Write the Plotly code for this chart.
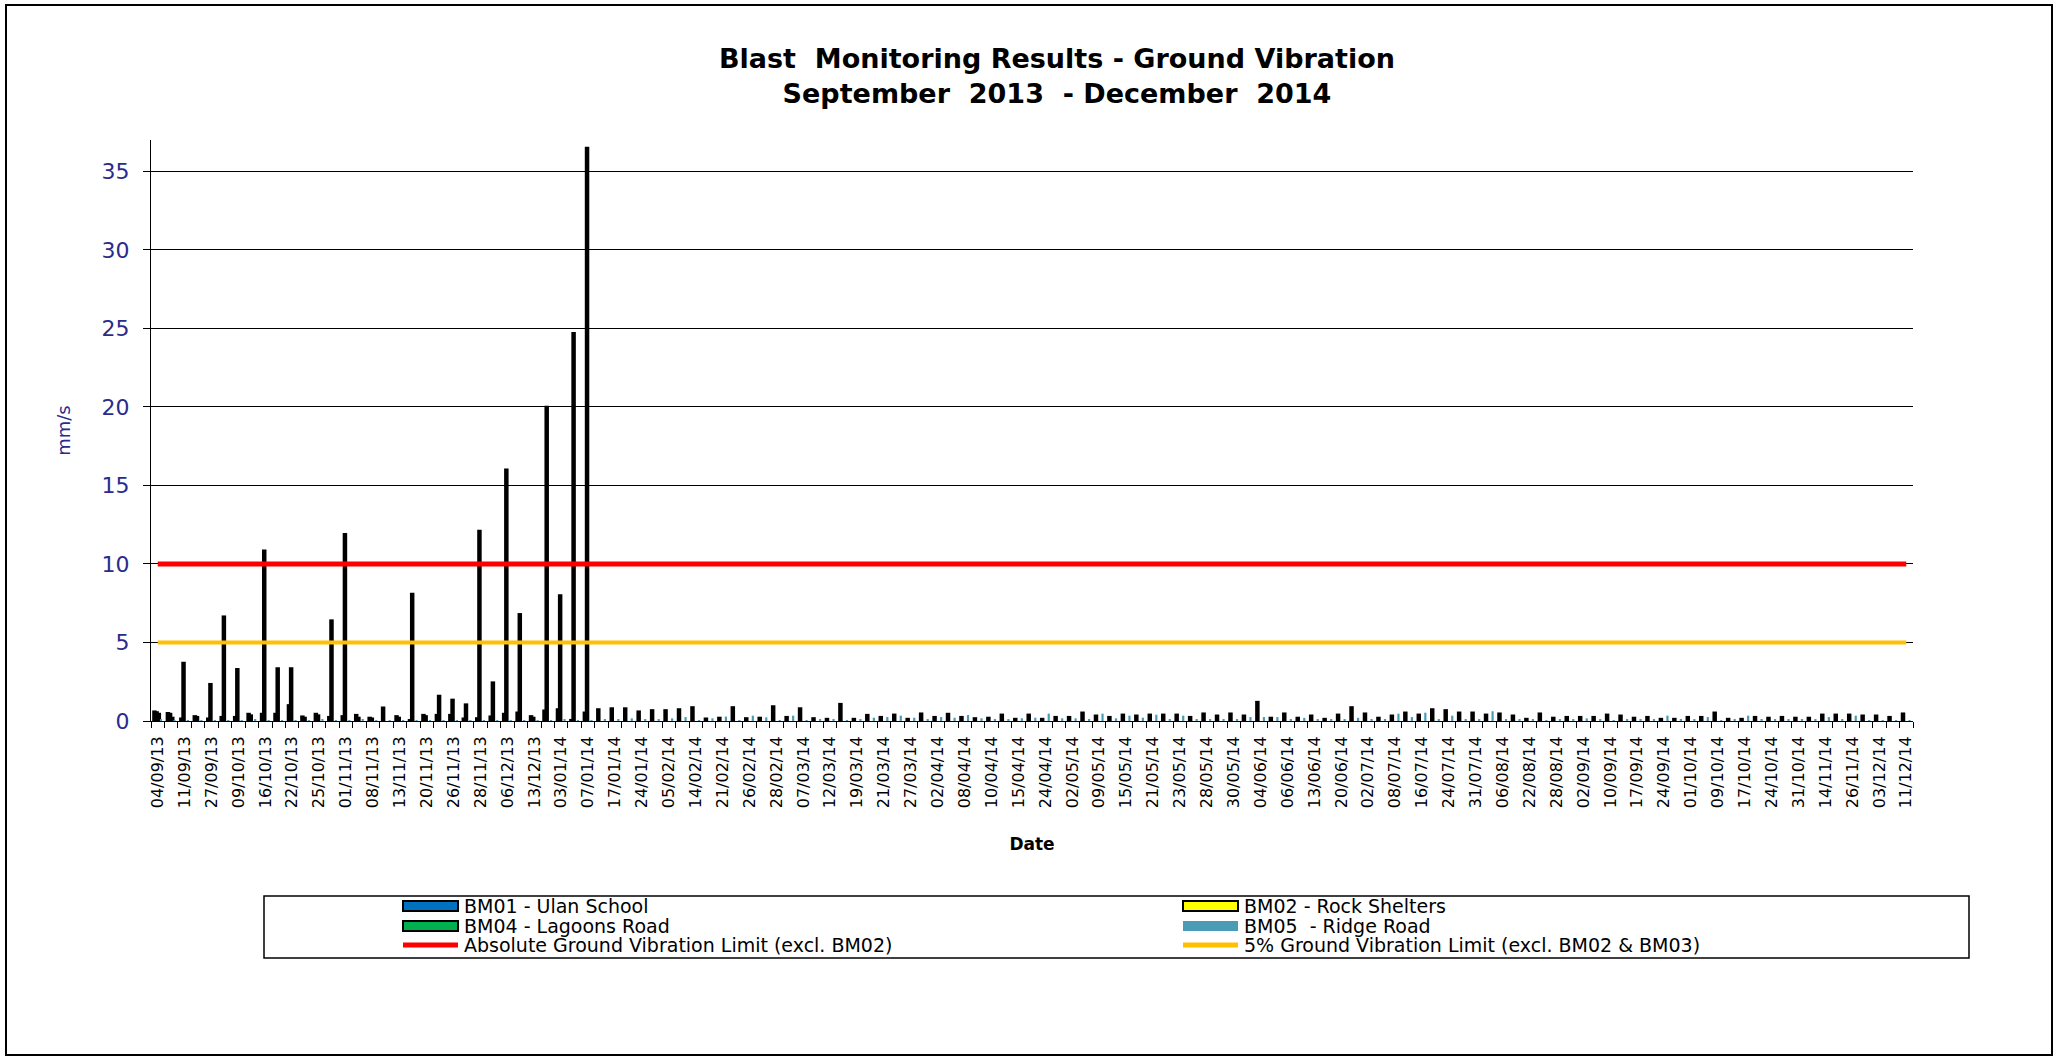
import plotly.graph_objects as go

# ---------------------------------------------------------------------------
# Data: one value per monitoring event (131 events, Sep 2013 - Dec 2014).
# Axis labels are printed on every second event.
# ---------------------------------------------------------------------------
DATE_LABELS = [
    "04/09/13", "11/09/13", "27/09/13", "09/10/13", "16/10/13", "22/10/13",
    "25/10/13", "01/11/13", "08/11/13", "13/11/13", "20/11/13", "26/11/13",
    "28/11/13", "06/12/13", "13/12/13", "03/01/14", "07/01/14", "17/01/14",
    "24/01/14", "05/02/14", "14/02/14", "21/02/14", "26/02/14", "28/02/14",
    "07/03/14", "12/03/14", "19/03/14", "21/03/14", "27/03/14", "02/04/14",
    "08/04/14", "10/04/14", "15/04/14", "24/04/14", "02/05/14", "09/05/14",
    "15/05/14", "21/05/14", "23/05/14", "28/05/14", "30/05/14", "04/06/14",
    "06/06/14", "13/06/14", "20/06/14", "02/07/14", "08/07/14", "16/07/14",
    "24/07/14", "31/07/14", "06/08/14", "22/08/14", "28/08/14", "02/09/14",
    "10/09/14", "17/09/14", "24/09/14", "01/10/14", "09/10/14", "17/10/14",
    "24/10/14", "31/10/14", "14/11/14", "26/11/14", "03/12/14", "11/12/14",
]

# BM01 - Ulan School (mm/s)
BM01 = [
    0.6, 0.5, 0.15, 0.3, 0.15, 0.25, 0.25, 0.45, 0.45, 0.45, 1.0, 0.28,
    0.45, 0.25, 0.3, 0.38, 0.2, 0.85, 0.3, 0.05, 0.38, 0.38, 0.38, 0.15,
    0.17, 0.28, 0.45, 0.53, 0.3, 0.66, 0.74, 0.06, 0.53, 0.74,
    0.8, 0.8, 0.6, 0.68, 0.68, 0.74, 0.87, 0.15, 0.2, 0.87, 0.17, 0.2,
    0.93, 0.25, 0.8, 0.17, 0.13, 1.08, 0.13, 0.38, 0.25, 0.4, 0.13, 0.47,
    0.25, 0.45, 0.25, 0.17, 0.2, 0.4, 0.13, 0.4, 0.13, 0.25, 0.25,
    0.53, 0.34, 0.25, 0.4, 0.34, 0.4, 0.4, 0.4, 0.25, 0.47, 0.34, 0.47,
    0.34, 1.21, 0.2, 0.47, 0.2, 0.34, 0.13, 0.4, 0.87, 0.47, 0.2, 0.34,
    0.53, 0.4, 0.74, 0.68, 0.53, 0.53, 0.4, 0.47, 0.34, 0.13,
    0.47, 0.2, 0.25, 0.25, 0.25, 0.4, 0.34, 0.2, 0.25, 0.13, 0.13, 0.25,
    0.25, 0.53, 0.13, 0.13, 0.25, 0.2, 0.25, 0.2, 0.2, 0.4, 0.4, 0.4,
    0.34, 0.34, 0.25, 0.47,
]

# BM02 - Rock Shelters (mm/s); readings stop after early January 2014
BM02 = [
    0.55, 0.45, 3.7, 0.25, 2.35, 6.65, 3.3, 0.35, 10.85, 3.35, 3.35, 0.2,
    0.35, 6.4, 11.9, 0.2, 0.15, None, 0.2, 8.1, 0.3, 1.6, 1.35, 1.05,
    12.1, 2.45, 16.0, 6.8, 0.2, 20.0, 8.0, 24.7, 36.5,
]

# BM04 - Lagoons Road (mm/s)
BM04 = [0.45, 0.2]

# BM05 - Ridge Road (mm/s)
BM05 = [
    0.1, 0.05, 0.05, 0.05, 0.05, 0.05, 0.05, 0.1, 0.05, 0.05, 0.05, 0.05,
    0.1, 0.05, 0.05, 0.1, 0.05, 0.05, 0.05, 0.05, 0.05, 0.05, 0.05, 0.05,
    0.05, 0.05, 0.05, 0.05, 0.05, 0.05, 0.1, 0.05, 0.05, 0.1,
    0.1, 0.17, 0.1, 0.1, 0.17, 0.25, 0.05, 0.17, 0.28, 0.05, 0.34, 0.23,
    0.05, 0.34, 0.05, 0.1, 0.1, 0.05, 0.1, 0.21, 0.25, 0.34, 0.21, 0.1,
    0.25, 0.21, 0.38, 0.17, 0.1, 0.1, 0.17, 0.21, 0.47, 0.17, 0.17,
    0.1, 0.47, 0.17, 0.34, 0.21, 0.4, 0.1, 0.34, 0.1, 0.1, 0.1, 0.1,
    0.25, 0.25, 0.25, 0.1, 0.2, 0.1, 0.1, 0.1, 0.2, 0.1, 0.1, 0.47,
    0.25, 0.53, 0.1, 0.34, 0.1, 0.1, 0.62, 0.1, 0.1, 0.1,
    0.05, 0.1, 0.1, 0.17, 0.1, 0.05, 0.1, 0.1, 0.1, 0.34, 0.1, 0.1,
    0.25, 0.05, 0.1, 0.34, 0.1, 0.1, 0.1, 0.1, 0.1, 0.25, 0.1, 0.34,
    0.05, 0.05, 0.05, 0.05,
]

ABS_LIMIT = 10   # Absolute ground vibration limit (mm/s)
PCT5_LIMIT = 5   # 5% ground vibration limit (mm/s)

SERIES_NAMES = [
    "BM01 - Ulan School",
    "BM02 - Rock Shelters",
    "BM04 - Lagoons Road",
    "BM05  - Ridge Road",
    "Absolute Ground Vibration Limit (excl. BM02)",
    "5% Ground Vibration Limit (excl. BM02 & BM03)",
]

# ---------------------------------------------------------------------------
# Styling / layout
# ---------------------------------------------------------------------------
W, H = 2060, 1059
PLOT_L, PLOT_R, PLOT_T, PLOT_B = 151, 1913, 140, 721
FONT = "DejaVu Sans"
NAVY = "#2B2B8C"
C_BM01, C_BM02, C_BM04, C_BM05 = "#0070C0", "#FFFF00", "#00B050", "#4A9BB5"
C_ABS, C_PCT5 = "#FF0000", "#FFC000"

n = len(BM01)
x_idx = list(range(n))


def pad(values):
    return values + [None] * (n - len(values))


def px_x(px):
    return (px - PLOT_L) / (PLOT_R - PLOT_L)


def px_y(py):
    return (PLOT_B - py) / (PLOT_B - PLOT_T)


fig = go.Figure()

# Narrow bars with a heavy outline: at this density they read as black spikes
bar_line = dict(color="black", width=2.3)
fig.add_trace(go.Bar(x=x_idx, y=BM01, name=SERIES_NAMES[0],
                     marker=dict(color=C_BM01, line=bar_line)))
fig.add_trace(go.Bar(x=x_idx, y=pad(BM02), name=SERIES_NAMES[1],
                     marker=dict(color=C_BM02, line=bar_line)))
fig.add_trace(go.Bar(x=x_idx, y=pad(BM04), name=SERIES_NAMES[2],
                     marker=dict(color=C_BM04, line=bar_line)))
fig.add_trace(go.Bar(x=x_idx, y=BM05, name=SERIES_NAMES[3],
                     marker=dict(color=C_BM05, line=dict(width=0))))

fig.add_trace(go.Scatter(x=[x_idx[0], x_idx[-1]], y=[ABS_LIMIT, ABS_LIMIT],
                         mode="lines", name=SERIES_NAMES[4],
                         line=dict(color=C_ABS, width=5)))
fig.add_trace(go.Scatter(x=[x_idx[0], x_idx[-1]], y=[PCT5_LIMIT, PCT5_LIMIT],
                         mode="lines", name=SERIES_NAMES[5],
                         line=dict(color=C_PCT5, width=4)))

fig.update_traces(showlegend=False, hoverinfo="skip")

fig.update_layout(
    width=W, height=H, autosize=False,
    margin=dict(l=PLOT_L, r=W - PLOT_R, t=PLOT_T, b=H - PLOT_B, pad=0),
    paper_bgcolor="white", plot_bgcolor="white",
    font=dict(family=FONT, color="black"),
    barmode="group", bargap=0.35, bargroupgap=0,
    showlegend=False,
    title=dict(
        text="Blast  Monitoring Results - Ground Vibration<br>September  2013  - December  2014",
        font=dict(family=FONT, size=27, color="black", weight="bold"),
        x=px_x(1057), xref="paper", xanchor="center",
        y=1 - 68 / H, yref="container", yanchor="middle",
    ),
    xaxis=dict(
        range=[-0.5, n - 0.5],
        tickmode="array",
        tickvals=x_idx[::2],
        ticktext=DATE_LABELS,
        tickangle=-90,
        ticks="",
        ticklabelstandoff=8,
        tickfont=dict(family=FONT, size=16, color="black"),
        minor=dict(tickmode="linear", tick0=-0.5, dtick=1, ticks="outside",
                   ticklen=6, tickwidth=1, tickcolor="black", showgrid=False),
        showline=True, linecolor="black", linewidth=1,
        showgrid=False, zeroline=False,
        title=dict(text="<b>Date</b>", standoff=30,
                   font=dict(family=FONT, size=17, color="black")),
    ),
    yaxis=dict(
        range=[0, 37],
        tickmode="array",
        tickvals=[0, 5, 10, 15, 20, 25, 30, 35],
        ticks="outside", ticklen=7, tickwidth=1, tickcolor="black",
        ticklabelstandoff=9,
        tickfont=dict(family=FONT, size=22, color=NAVY),
        showline=True, linecolor="black", linewidth=1,
        showgrid=True, gridcolor="black", gridwidth=1,
        zeroline=False,
        title=dict(text="mm/s", standoff=26,
                   font=dict(family=FONT, size=18, color=NAVY)),
    ),
)

# Outer chart frame
fig.add_shape(type="rect", xref="paper", yref="paper",
              x0=px_x(6), x1=px_x(2052), y0=px_y(1055), y1=px_y(5),
              line=dict(color="black", width=2), fillcolor="rgba(0,0,0,0)",
              layer="below")

# Legend box with two columns of entries
fig.add_shape(type="rect", xref="paper", yref="paper",
              x0=px_x(264), x1=px_x(1969), y0=px_y(958), y1=px_y(896),
              line=dict(color="black", width=1.5), fillcolor="white")

col_x = [403, 1183]
row_y = [906, 926, 945]
entries = [
    (0, 0, "box", C_BM01, True),
    (1, 0, "box", C_BM02, True),
    (0, 1, "box", C_BM04, True),
    (1, 1, "box", C_BM05, False),
    (0, 2, "line", C_ABS, None),
    (1, 2, "line", C_PCT5, None),
]
for name, (col, row, kind, color, outlined) in zip(SERIES_NAMES, entries):
    sx0, sx1 = col_x[col], col_x[col] + 55
    cy = row_y[row]
    if kind == "box":
        fig.add_shape(type="rect", xref="paper", yref="paper",
                      x0=px_x(sx0), x1=px_x(sx1),
                      y0=px_y(cy + 5), y1=px_y(cy - 5),
                      fillcolor=color,
                      line=dict(color="black" if outlined else color,
                                width=2 if outlined else 0))
    else:
        fig.add_shape(type="line", xref="paper", yref="paper",
                      x0=px_x(sx0), x1=px_x(sx1), y0=px_y(cy), y1=px_y(cy),
                      line=dict(color=color, width=5))
    fig.add_annotation(text=name, xref="paper", yref="paper",
                       x=px_x(sx1 + 4), y=px_y(cy), xanchor="left",
                       yanchor="middle", showarrow=False,
                       font=dict(family=FONT, size=19, color="black"))

fig.write_html("out.html")
